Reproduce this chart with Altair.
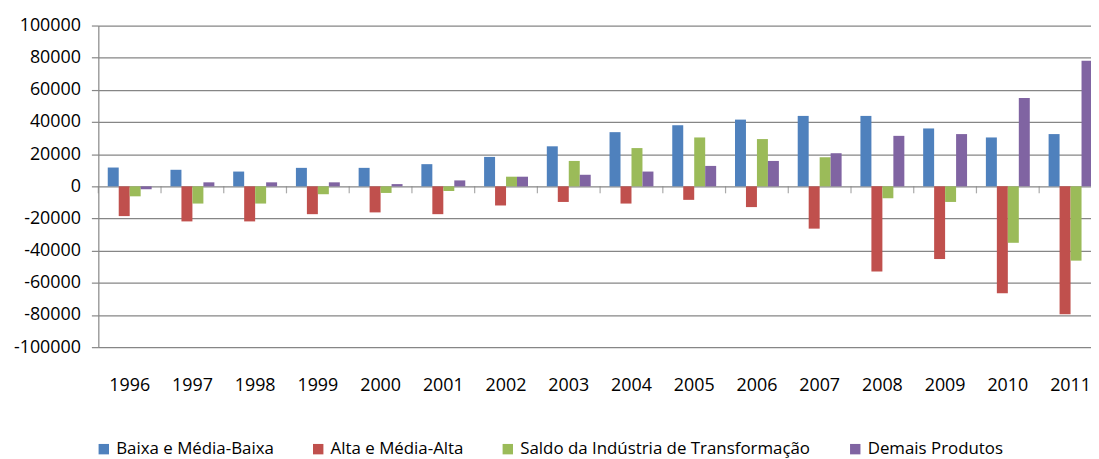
import altair as alt
import pandas as pd

years = [str(y) for y in range(1996, 2012)]
series = ["Baixa e Média-Baixa", "Alta e Média-Alta",
          "Saldo da Indústria de Transformação", "Demais Produtos"]
colors = ["#4F81BD", "#C0504D", "#9BBB59", "#8064A2"]

baixa = [11700, 10300, 9200, 11500, 11500, 13800, 18300, 24900, 33700, 38000,
         41500, 43800, 43800, 36000, 30400, 32500]
alta = [-18500, -21800, -21800, -17300, -16200, -17300, -11900, -9700, -10700, -8400,
        -12900, -26300, -53000, -45200, -66400, -79500]
saldo = [-6200, -10700, -10700, -4900, -4100, -2900, 6000, 15800, 23800, 30400,
         29400, 18100, -7400, -9700, -35100, -46200]
demais = [-1800, 2500, 2500, 2500, 1400, 3700, 6000, 7200, 9200, 12700,
          15800, 20600, 31400, 32500, 54900, 78100]
y_ticks = list(range(-100000, 100001, 20000))

rows = []
for s, vals in zip(series, [baixa, alta, saldo, demais]):
    for y, v in zip(years, vals):
        rows.append({"ano": y, "serie": s, "valor": v})
df = pd.DataFrame(rows)
ticks_df = pd.DataFrame({"ano": years})

FONT = "Open Sans"
GRID = "#868686"

x_scale = alt.Scale(domain=years, range=[0, 1011], paddingInner=0.3, paddingOuter=0.15)
y_scale = alt.Scale(domain=[-100000, 100000], nice=False)

y_axis = alt.Axis(title=None, values=y_ticks, labelExpr="'' + datum.value",
                  labelOverlap=False, tickCount=11,
                  grid=True, gridColor=GRID, gridWidth=1.2,
                  domainColor=GRID, domainWidth=1.2, tickColor=GRID, tickSize=7,
                  tickWidth=1.2, labelFontSize=18, labelFont=FONT,
                  labelColor="#000000", labelPadding=11)

bars = alt.Chart(df).mark_bar().encode(
    x=alt.X("ano:N", scale=x_scale, sort=years,
            axis=alt.Axis(title=None, labelAngle=0, ticks=False, domain=False, grid=False,
                          labelFontSize=18, labelFont=FONT, labelColor="#000000",
                          labelPadding=30, labelOverlap=False)),
    xOffset=alt.XOffset("serie:N", sort=series, scale=alt.Scale(domain=series)),
    y=alt.Y("valor:Q", scale=y_scale, axis=y_axis),
    color=alt.Color("serie:N", sort=series,
                    scale=alt.Scale(domain=series, range=colors),
                    legend=alt.Legend(title=None, orient="none", direction="horizontal",
                                      legendX=-3, legendY=418, symbolType="square",
                                      symbolSize=110, symbolStrokeWidth=0,
                                      labelFontSize=17, labelFont=FONT, labelLimit=0,
                                      labelColor="#000000", labelOffset=4,
                                      columnPadding=36)),
)

zero_ticks = alt.Chart(ticks_df).mark_tick(
    color=GRID, thickness=1.2, size=7, xOffset=-9.5, yOffset=3.5, orient="vertical"
).encode(
    x=alt.X("ano:N", scale=x_scale, sort=years, bandPosition=0),
    y=alt.YDatum(0, type="quantitative", scale=y_scale, axis=y_axis),
)

chart = alt.layer(bars, zero_ticks).properties(
    width=1000, height=324,
    autosize=alt.AutoSizeParams(type="none"),
    padding={"left": 91, "top": 16, "right": 0, "bottom": 111},
).configure_view(stroke=None)

chart.save("out.html", embed_options={"renderer": "svg", "actions": False})
